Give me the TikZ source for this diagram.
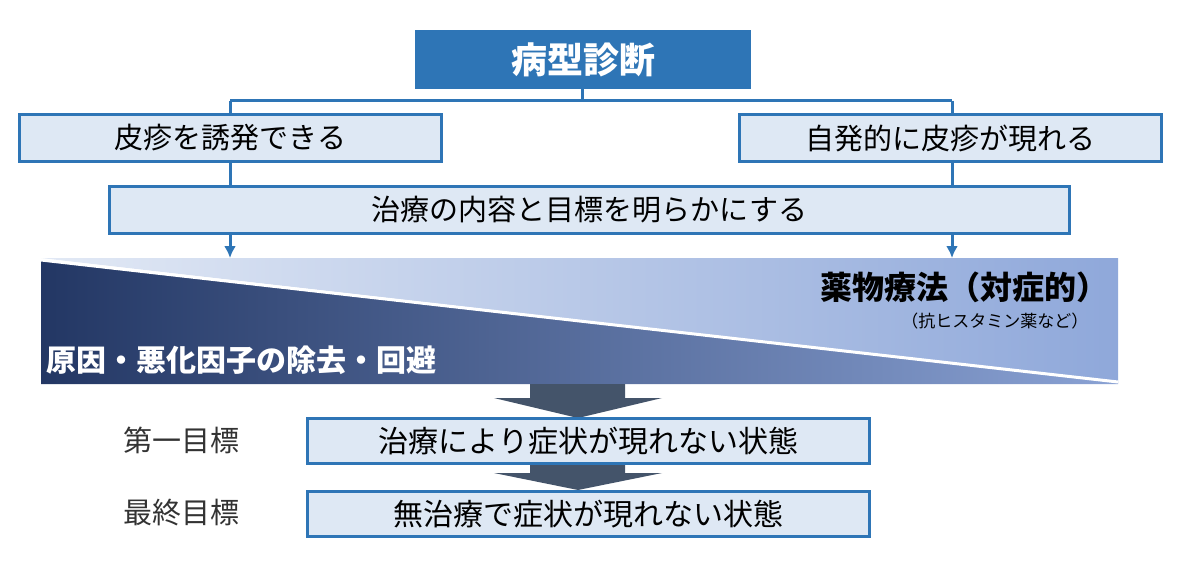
\documentclass[tikz,border=0pt]{standalone}
\usepackage{fontspec}
\usetikzlibrary{arrows.meta}
\setmainfont{Noto Sans CJK JP}
\begin{document}
\begin{tikzpicture}[x=1pt,y=-1pt,
  bx/.style={draw=blu,line width=3pt,fill=boxf,inner sep=0pt,anchor=north west},
  ln/.style={draw=blu,line width=3pt},
  ar/.style={ln,-{Latex[length=12pt,width=12pt]}},
  big/.style={fill=dark},
  tx/.style={font=\fontsize{29}{29}\selectfont}]
\definecolor{blu}{HTML}{2E75B6}
\definecolor{boxf}{HTML}{DEE8F4}
\definecolor{dark}{HTML}{44546A}
\definecolor{HTMLa}{HTML}{E2E9F5}
\definecolor{HTMLb}{HTML}{8FA8DA}
\definecolor{HTMLc}{HTML}{233764}
\definecolor{HTMLd}{HTML}{8AA2D4}
\useasboundingbox (0,0) rectangle (1187,567);
\fill[white] (0,0) rectangle (1187,567);
\node[bx,fill=blu,minimum width=333pt,minimum height=56pt,text=white,font=\bfseries\fontsize{36}{36}\selectfont] (top) at (415,30) {病型診断};
\node[bx,tx,minimum width=422pt,minimum height=47pt] (l) at (18,113) {皮疹を誘発できる};
\node[bx,tx,minimum width=422pt,minimum height=47pt] (r) at (738,113) {自発的に皮疹が現れる};
\node[bx,tx,minimum width=960pt,minimum height=47pt] (w) at (108,185) {治療の内容と目標を明らかにする};
\coordinate (j) at (582,101);
\draw[ln] (582,86) -- (j);
\draw[ln] (230,101) -- (952,101);
\draw[ln] (230,101) -- (230,113);
\draw[ln] (952,101) -- (952,113);
\draw[ln] (230,160) -- (230,185);
\draw[ln] (952,160) -- (952,185);
\coordinate (a1) at (230,258);
\coordinate (a2) at (952,258);
\draw[ar] (230,232) -- (a1);
\draw[ar] (952,232) -- (a2);
% triangles
\shade[left color=HTMLa,right color=HTMLb] (41,258) -- (1118,258) -- (1118,382) -- cycle;
\shade[left color=HTMLc,right color=HTMLd] (41,260) -- (1118,382) -- (1118,384) -- (41,384) -- cycle;
\draw[white,line width=3pt] (41,260) -- (1118,382);
\node[anchor=east,font=\bfseries\fontsize{32}{32}\selectfont] (t1) at (1112,287) {薬物療法（対症的）};
\node[anchor=east,font=\fontsize{17}{17}\selectfont] (t2) at (1092,321) {（抗ヒスタミン薬など）};
\node[anchor=west,inner sep=0pt,text=white,font=\bfseries\fontsize{30}{30}\selectfont] (t3) at (46,360) {原因・悪化因子の除去・回避};
% arrows
\fill[big] (530,384) -- (625,384) -- (625,398) -- (662,398) -- (578,418) -- (494,398) -- (530,398) -- cycle;
\fill[big] (530,462) -- (625,462) -- (625,473) -- (662,473) -- (578,490) -- (494,473) -- (530,473) -- cycle;
\node[bx,minimum width=562pt,minimum height=45pt,font=\fontsize{30}{30}\selectfont] (g1) at (306,417) {治療により症状が現れない状態};
\node[bx,minimum width=562pt,minimum height=45pt,font=\fontsize{30}{30}\selectfont] (g2) at (306,490) {無治療で症状が現れない状態};
\node[font=\fontsize{29}{29}\selectfont,text=black!80] (lb1) at (181,440) {第一目標};
\node[font=\fontsize{29}{29}\selectfont,text=black!80] (lb2) at (181,513) {最終目標};
\end{tikzpicture}
\end{document}
